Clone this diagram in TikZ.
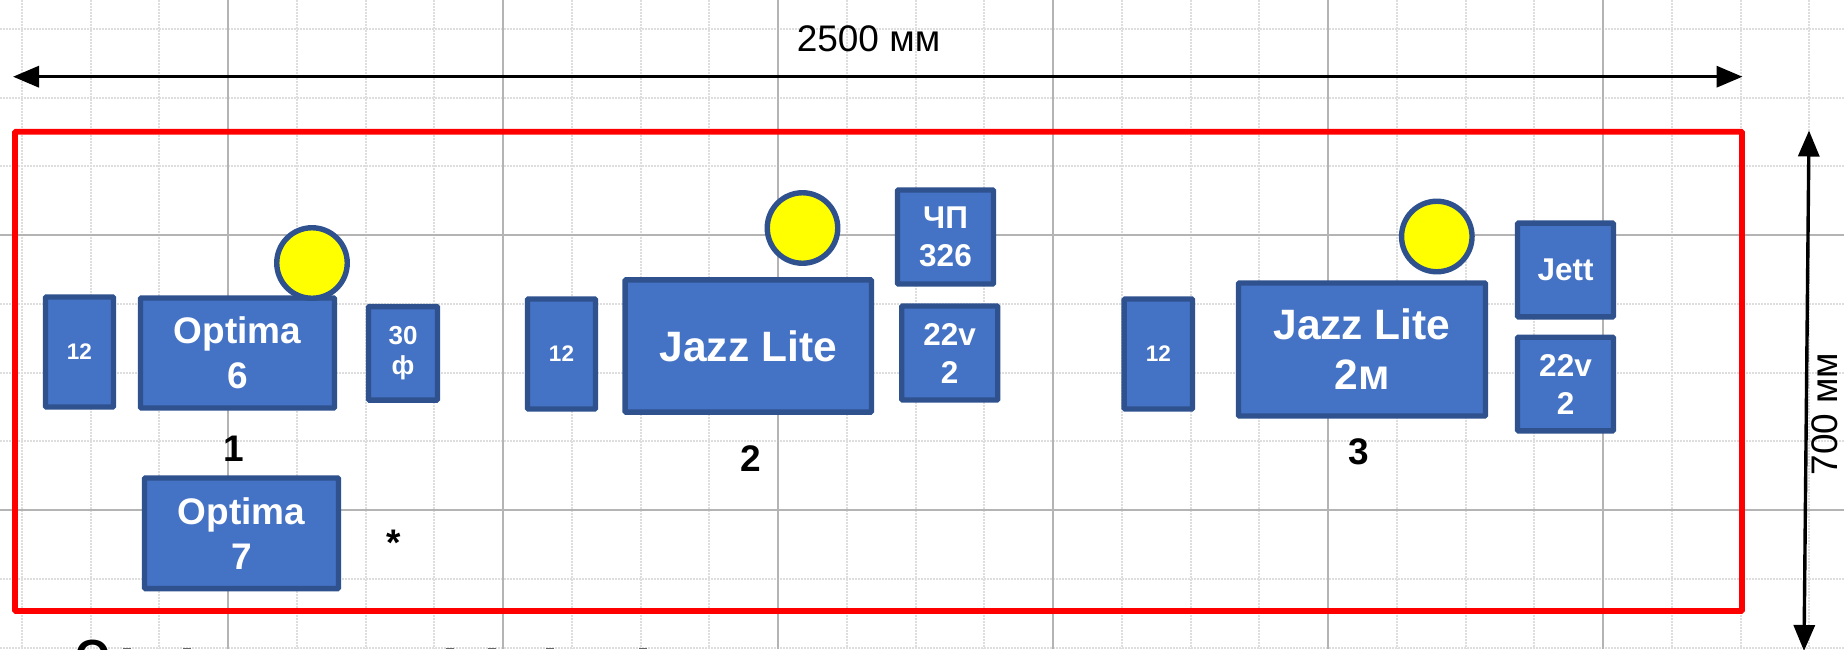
\documentclass[tikz,border=0pt]{standalone}
\usepackage{fontspec}
\setmainfont{Liberation Sans}
\usetikzlibrary{arrows.meta}
\definecolor{boxfill}{HTML}{4472C4}
\definecolor{boxline}{HTML}{2F528F}
\definecolor{majorgrid}{HTML}{B4B4B4}
\definecolor{minorgrid}{HTML}{DEDEDE}
\definecolor{lampfill}{HTML}{FFFF00}
\definecolor{framered}{HTML}{FF0000}
\tikzset{
  x=1pt,y=-1pt,
  boxs/.style={draw=boxline,fill=boxfill,line width=5.4pt,rounded corners=1pt,inner sep=0pt,align=center,text=white},
  fsa/.style={font=\fontsize{22.5}{26}\selectfont\bfseries},
  fsb/.style={font=\fontsize{26}{30}\selectfont\bfseries},
  fsc/.style={font=\fontsize{31.5}{38}\selectfont\bfseries},
  fsd/.style={font=\fontsize{37}{45}\selectfont\bfseries},
  fse/.style={font=\fontsize{42.5}{50}\selectfont\bfseries},
  lamp/.style={circle,draw=boxline,fill=lampfill,line width=5.4pt,minimum size=70.5pt,inner sep=0pt},
  numlabel/.style={anchor=base,font=\fontsize{37}{44}\selectfont\bfseries,text=black,inner sep=0pt},
  dimtext/.style={anchor=base,font=\fontsize{37}{44}\selectfont,text=black,inner sep=0pt},
  dimline/.style={draw=black,line width=3.4pt,{Triangle[length=26pt,width=21pt]}-{Triangle[length=26pt,width=21pt]}},
  majorline/.style={draw=majorgrid,line width=2pt},
  minorline/.style={draw=minorgrid,line width=2pt,dash pattern=on 1.5pt off 1.5pt},
}
\begin{document}
\begin{tikzpicture}
\useasboundingbox (0,0) rectangle (1844,649);
\clip (0,0) rectangle (1844,649);
\fill[white] (0,0) rectangle (1844,649);
% grid
\foreach \k in {0,...,26}{\draw[minorline] ({21.75+68.75*\k},0) -- ({21.75+68.75*\k},649);}
\foreach \k in {0,...,9}{\draw[minorline] (0,{28.8+68.75*\k}) -- (1844,{28.8+68.75*\k});}
\foreach \k in {0,...,5}{\draw[majorline] ({228+275*\k},0) -- ({228+275*\k},649);}
\foreach \k in {0,1}{\draw[majorline] (0,{235.3+275*\k}) -- (1844,{235.3+275*\k});}
% frame
\node[name=frame,draw=framered,line width=5.8pt,rounded corners=1pt,minimum width=1727pt,minimum height=479.3pt,inner sep=0pt] at (878.5,371.3) {};
% dimensions
\coordinate (hl) at (13,76.7);
\coordinate (hr) at (1742.5,76.7);
\draw[dimline] (hl) -- (hr);
\coordinate (vt) at (1809,130.5);
\coordinate (vb) at (1804,651);
\draw[dimline] (vt) -- (vb);
\node[dimtext,name=dimw] at (868.5,51.7) {2500 мм};
\node[dimtext,name=dimh,rotate=90] at (1837,414) {700 мм};
% group 1
\node[boxs,fsa,name=a12,minimum width=68pt,minimum height=110pt] at (79.5,352) {12};
\node[boxs,fsd,name=opt6,minimum width=194pt,minimum height=110pt] at (237.5,353) {Optima\\6};
\node[boxs,fsb,name=f30,minimum width=69pt,minimum height=93.5pt] at (403,353.3) {30\\ф};
\node[lamp,name=lamp1] at (312,263) {};
\node[boxs,fsd,name=opt7,minimum width=194pt,minimum height=110.7pt] at (241.5,533.3) {Optima\\7};
\node[numlabel,name=n1] at (234,461) {1};
\node[numlabel,name=star] at (394,555.5) {*};
% group 2
\node[boxs,fsa,name=b12,minimum width=68pt,minimum height=110pt] at (561.5,354) {12};
\node[boxs,fse,name=jazz,minimum width=246.3pt,minimum height=132.3pt] at (748.3,346) {Jazz Lite};
\node[lamp,name=lamp2] at (802.5,228) {};
\node[boxs,fsc,name=cp,minimum width=96pt,minimum height=94pt] at (945.5,237) {ЧП\\326};
\node[boxs,fsc,name=va,minimum width=96pt,minimum height=94pt] at (949.7,353) {22v\\2};
\node[numlabel,name=n2] at (751,471.7) {2};
% group 3
\node[boxs,fsa,name=c12,minimum width=68.3pt,minimum height=110pt] at (1158.3,354) {12};
\node[boxs,fse,name=jazzb,minimum width=247pt,minimum height=133pt] at (1362,349.5) {Jazz Lite\\2м};
\node[lamp,name=lamp3] at (1436.8,236.5) {};
\node[boxs,fsc,name=jett,minimum width=96pt,minimum height=93.7pt] at (1565.5,270) {Jett};
\node[boxs,fsc,name=vb,minimum width=96pt,minimum height=93.6pt] at (1565.5,384) {22v\\2};
\node[numlabel,name=n3] at (1359,464.5) {3};
% cropped line of text at the lower edge
\node[anchor=base,inner sep=0pt,font=\fontsize{45}{50}\selectfont\bfseries,name=crop] at (92.5,671) {О};
\foreach \xx in {127,187,450,492,550,643}{\draw[line width=1.5pt,draw=black!60] (\xx-4,648.7) -- (\xx+4,648.7);}
\end{tikzpicture}
\end{document}
